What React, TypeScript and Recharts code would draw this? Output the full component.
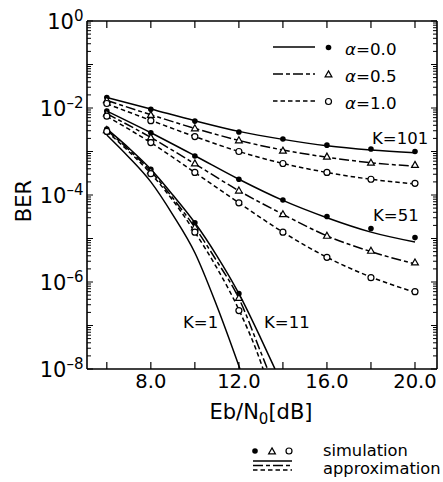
import React from 'react';
import { ComposedChart, Line, Scatter, XAxis, YAxis } from 'recharts';

const FONT = '"DejaVu Sans", "Liberation Sans", sans-serif';
const INK = '#000';

// ---- simulation data (Eb/N0 in dB) ----
const EBN0 = [6, 8, 10, 12, 14, 16, 18, 20];
const SIM_K101_A00 = [1.75e-2, 9.3e-3, 5.0e-3, 2.8e-3, 1.94e-3, 1.4e-3, 1.14e-3, 1.0e-3];
const SIM_K101_A05 = [1.5e-2, 6.9e-3, 3.4e-3, 1.8e-3, 1.04e-3, 7.6e-4, 5.5e-4, 4.9e-4];
const SIM_K101_A10 = [1.27e-2, 5.1e-3, 2.2e-3, 1.0e-3, 5.3e-4, 3.3e-4, 2.3e-4, 1.86e-4];
const SIM_K51_A00 = [8.5e-3, 2.7e-3, 7.9e-4, 2.3e-4, 7.7e-5, 3.2e-5, 1.7e-5, 1.05e-5];
const SIM_K51_A05 = [7.5e-3, 2.1e-3, 5.3e-4, 1.26e-4, 3.6e-5, 1.15e-5, 5.2e-6, 2.8e-6];
const SIM_K51_A10 = [6.5e-3, 1.6e-3, 3.3e-4, 6.6e-5, 1.4e-5, 3.7e-6, 1.26e-6, 6.0e-7];
const EBN0_K11 = [6, 8, 10, 12];
const SIM_K11_A00 = [3.3e-3, 3.9e-4, 2.3e-5, 5.4e-7];
const SIM_K11_A05 = [3.1e-3, 3.5e-4, 1.8e-5, 4.3e-7];
const SIM_K11_A10 = [2.9e-3, 3.1e-4, 1.4e-5, 2.2e-7];

// ---- approximation curves ----
const APX_K101_A00 = [1.75e-2, 9.5e-3, 5.1e-3, 2.9e-3, 1.9e-3, 1.35e-3, 1.08e-3, 9.3e-4];
const APX_K101_A05 = [1.5e-2, 7.0e-3, 3.4e-3, 1.8e-3, 1.08e-3, 7.4e-4, 5.5e-4, 4.6e-4];
const APX_K101_A10 = [1.25e-2, 5.2e-3, 2.2e-3, 1.0e-3, 5.3e-4, 3.3e-4, 2.3e-4, 1.8e-4];
const APX_K51_A00 = [8.5e-3, 2.7e-3, 8.0e-4, 2.3e-4, 7.5e-5, 3.0e-5, 1.4e-5, 8.3e-6];
const APX_K51_A05 = [7.4e-3, 2.1e-3, 5.2e-4, 1.25e-4, 3.6e-5, 1.15e-5, 5.0e-6, 2.6e-6];
const APX_K51_A10 = [6.4e-3, 1.6e-3, 3.3e-4, 6.6e-5, 1.4e-5, 3.7e-6, 1.3e-6, 5.8e-7];
const APX_K11_A00_X = [6, 7, 8, 9, 10, 11, 12, 13, 13.64];
const APX_K11_A00 = [3.3e-3, 1.2e-3, 3.9e-4, 1.0e-4, 2.3e-5, 4.0e-6, 5.4e-7, 5e-8, 1e-8];
const APX_K11_A05_X = [6, 7, 8, 9, 10, 11, 12, 13, 13.3];
const APX_K11_A05 = [3.1e-3, 1.1e-3, 3.5e-4, 8.5e-5, 1.8e-5, 3.0e-6, 4.2e-7, 2.4e-8, 1e-8];
const APX_K11_A10_X = [6, 7, 8, 9, 10, 11, 12, 13, 13.1];
const APX_K11_A10 = [2.9e-3, 1.0e-3, 3.1e-4, 7.5e-5, 1.4e-5, 2.1e-6, 2.3e-7, 1.4e-8, 1e-8];
const APX_K1_X = [6, 7, 8, 9, 10, 11, 12.05];
const APX_K1 = [2.4e-3, 7.4e-4, 2.0e-4, 3.5e-5, 4.7e-6, 2.8e-7, 1e-8];

// ---- axes ----
const X_DOMAIN = [5.1, 21];
const X_TICKS = [6, 8, 10, 12, 14, 16, 18, 20];
const X_LABELED = [8, 12, 16, 20];
const Y_DOMAIN = [1e-8, 1];
const Y_EXPONENTS = [-8, -7, -6, -5, -4, -3, -2, -1];
const Y_LABELED = [0, -2, -4, -6, -8];
const Y_TICKS: number[] = [];
Y_EXPONENTS.forEach((e) => {
  for (let m = 1; m <= 9; m++) Y_TICKS.push(m * Math.pow(10, e));
});
Y_TICKS.push(1);

const pts = (xs: number[], ys: number[]) => xs.map((x, i) => ({ x, y: ys[i] }));

const DASH_05 = '10 3 4 3';
const DASH_10 = '4.5 3';

const isDecade = (v: number) => {
  const l = Math.log10(v);
  return Math.abs(l - Math.round(l)) < 1e-6;
};

const BottomTick = (p: any) => {
  const { x, y, payload } = p;
  const v = payload.value;
  return (
    <g>
      <line x1={x} x2={x} y1={y} y2={y - 7} stroke={INK} strokeWidth={1.2} />
      {X_LABELED.includes(v) && (
        <text x={x} y={y + 19} textAnchor="middle" fontSize={19.5} fontFamily={FONT} fill={INK}>
          {v.toFixed(1)}
        </text>
      )}
    </g>
  );
};

const TopTick = (p: any) => {
  const { x, y } = p;
  return <line x1={x} x2={x} y1={y} y2={y + 7} stroke={INK} strokeWidth={1.2} />;
};

const LeftTick = (p: any) => {
  const { x, y, payload } = p;
  const v = payload.value;
  const major = isDecade(v);
  const e = Math.round(Math.log10(v));
  return (
    <g>
      <line x1={x} x2={x + (major ? 6 : 4)} y1={y} y2={y} stroke={INK} strokeWidth={1} />
      {major && Y_LABELED.includes(e) && (
        <text x={x - 3.5} y={y + 7.7} textAnchor="end" fontSize={21} fontFamily={FONT} fill={INK}>
          <tspan>10</tspan>
          <tspan dy={-7.5} fontSize={15}>{e === 0 ? '0' : '\u2013' + Math.abs(e)}</tspan>
        </text>
      )}
    </g>
  );
};

const RightTick = (p: any) => {
  const { x, y, payload } = p;
  const major = isDecade(payload.value);
  return <line x1={x} x2={x - (major ? 6 : 4)} y1={y} y2={y} stroke={INK} strokeWidth={1} />;
};

const Filled = (p: any) => <circle cx={p.cx} cy={p.cy} r={2.8} fill={INK} />;
const Tri = (p: any) => (
  <path
    d={`M${p.cx},${p.cy - 3.6} L${p.cx + 3.4},${p.cy + 2.4} L${p.cx - 3.4},${p.cy + 2.4} Z`}
    fill="#fff"
    stroke={INK}
    strokeWidth={1.2}
  />
);
const Open = (p: any) => <circle cx={p.cx} cy={p.cy} r={3} fill="#fff" stroke={INK} strokeWidth={1.2} />;

const lineProps = {
  xAxisId: 'x',
  yAxisId: 'y',
  dataKey: 'y',
  type: 'monotone' as const,
  dot: false,
  activeDot: false,
  stroke: INK,
  strokeWidth: 1.5,
  isAnimationActive: false,
  connectNulls: true,
};

const scatterProps = {
  xAxisId: 'x',
  yAxisId: 'y',
  dataKey: 'y',
  isAnimationActive: false,
};

export default function App() {
  return (
    <div style={{ position: 'absolute', left: 0, top: 0, width: 443, height: 482, background: '#fff' }}>
      <ComposedChart
        width={443}
        height={482}
        margin={{ top: 20, right: 5, bottom: 112, left: 86 }}
      >
        <XAxis
          xAxisId="x"
          dataKey="x"
          type="number"
          domain={X_DOMAIN}
          allowDataOverflow
          ticks={X_TICKS}
          interval={0}
          height={1}
          tickSize={0}
          tickMargin={0}
          tickLine={false}
          tick={<BottomTick />}
          axisLine={{ stroke: INK, strokeWidth: 1.6 }}
        />
        <XAxis
          xAxisId="xt"
          orientation="top"
          dataKey="x"
          type="number"
          domain={X_DOMAIN}
          allowDataOverflow
          ticks={X_TICKS}
          interval={0}
          height={1}
          tickSize={0}
          tickMargin={0}
          tickLine={false}
          tick={<TopTick />}
          axisLine={{ stroke: INK, strokeWidth: 1.6 }}
        />
        <YAxis
          yAxisId="y"
          dataKey="y"
          type="number"
          scale="log"
          domain={Y_DOMAIN}
          allowDataOverflow
          ticks={Y_TICKS}
          interval={0}
          width={1}
          tickSize={0}
          tickMargin={0}
          tickLine={false}
          tick={<LeftTick />}
          axisLine={{ stroke: INK, strokeWidth: 1.6 }}
        />
        <YAxis
          yAxisId="yr"
          orientation="right"
          dataKey="y"
          type="number"
          scale="log"
          domain={Y_DOMAIN}
          allowDataOverflow
          ticks={Y_TICKS}
          interval={0}
          width={1}
          tickSize={0}
          tickMargin={0}
          tickLine={false}
          tick={<RightTick />}
          axisLine={{ stroke: INK, strokeWidth: 1.6 }}
        />

        {/* approximation curves */}
        <Line {...lineProps} data={pts(EBN0, APX_K101_A00)} />
        <Line {...lineProps} data={pts(EBN0, APX_K101_A05)} strokeDasharray={DASH_05} />
        <Line {...lineProps} data={pts(EBN0, APX_K101_A10)} strokeDasharray={DASH_10} />
        <Line {...lineProps} data={pts(EBN0, APX_K51_A00)} />
        <Line {...lineProps} data={pts(EBN0, APX_K51_A05)} strokeDasharray={DASH_05} />
        <Line {...lineProps} data={pts(EBN0, APX_K51_A10)} strokeDasharray={DASH_10} />
        <Line {...lineProps} data={pts(APX_K11_A00_X, APX_K11_A00)} />
        <Line {...lineProps} data={pts(APX_K11_A05_X, APX_K11_A05)} strokeDasharray={DASH_05} />
        <Line {...lineProps} data={pts(APX_K11_A10_X, APX_K11_A10)} strokeDasharray={DASH_10} />
        <Line {...lineProps} data={pts(APX_K1_X, APX_K1)} />

        {/* simulation points */}
        <Scatter {...scatterProps} data={pts(EBN0, SIM_K101_A00)} shape={Filled} />
        <Scatter {...scatterProps} data={pts(EBN0, SIM_K101_A05)} shape={Tri} />
        <Scatter {...scatterProps} data={pts(EBN0, SIM_K101_A10)} shape={Open} />
        <Scatter {...scatterProps} data={pts(EBN0, SIM_K51_A00)} shape={Filled} />
        <Scatter {...scatterProps} data={pts(EBN0, SIM_K51_A05)} shape={Tri} />
        <Scatter {...scatterProps} data={pts(EBN0, SIM_K51_A10)} shape={Open} />
        <Scatter {...scatterProps} data={pts(EBN0_K11, SIM_K11_A00)} shape={Filled} />
        <Scatter {...scatterProps} data={pts(EBN0_K11, SIM_K11_A05)} shape={Tri} />
        <Scatter {...scatterProps} data={pts(EBN0_K11, SIM_K11_A10)} shape={Open} />
      </ComposedChart>

      <svg
        width={443}
        height={482}
        style={{ position: 'absolute', left: 0, top: 0, pointerEvents: 'none' }}
        fontFamily={FONT}
        fill={INK}
      >
        {/* axis titles */}
        <text transform="translate(31,201) rotate(-90)" textAnchor="middle" fontSize={21}>BER</text>
        <text x={261} y={419} textAnchor="middle" fontSize={21}>
          <tspan>Eb/N</tspan>
          <tspan dy={5} fontSize={15}>0</tspan>
          <tspan dy={-5}>[dB]</tspan>
        </text>

        {/* curve annotations */}
        <text x={372} y={143.5} fontSize={16.5}>K=101</text>
        <text x={373} y={220.5} fontSize={16.5}>K=51</text>
        <text x={183} y={328} fontSize={16.5}>K=1</text>
        <text x={264} y={328} fontSize={16.5}>K=11</text>

        {/* in-plot legend */}
        <line x1={273} x2={315} y1={47} y2={47} stroke={INK} strokeWidth={1.5} />
        <line x1={273} x2={315} y1={74} y2={74} stroke={INK} strokeWidth={1.5} strokeDasharray={DASH_05} />
        <line x1={273} x2={315} y1={101} y2={101} stroke={INK} strokeWidth={1.5} strokeDasharray={DASH_10} />
        <Filled cx={328.5} cy={47.5} />
        <Tri cx={328.5} cy={74.5} />
        <Open cx={328.5} cy={101.5} />
        <text x={345} y={55} fontSize={16.7}><tspan fontStyle="italic">α</tspan>=0.0</text>
        <text x={345} y={81.7} fontSize={16.7}><tspan fontStyle="italic">α</tspan>=0.5</text>
        <text x={345} y={109} fontSize={16.7}><tspan fontStyle="italic">α</tspan>=1.0</text>

        {/* bottom legend */}
        <Filled cx={255} cy={451} />
        <Tri cx={272} cy={451.5} />
        <Open cx={289} cy={451} />
        <text x={323} y={456} fontSize={16.3}>simulation</text>
        <line x1={253} x2={292} y1={461} y2={461} stroke={INK} strokeWidth={1.4} />
        <line x1={253} x2={292} y1={465.5} y2={465.5} stroke={INK} strokeWidth={1.4} strokeDasharray={DASH_05} />
        <line x1={253} x2={292} y1={470} y2={470} stroke={INK} strokeWidth={1.4} strokeDasharray={DASH_10} />
        <text x={323} y={474} fontSize={16.3}>approximation</text>
      </svg>
    </div>
  );
}
